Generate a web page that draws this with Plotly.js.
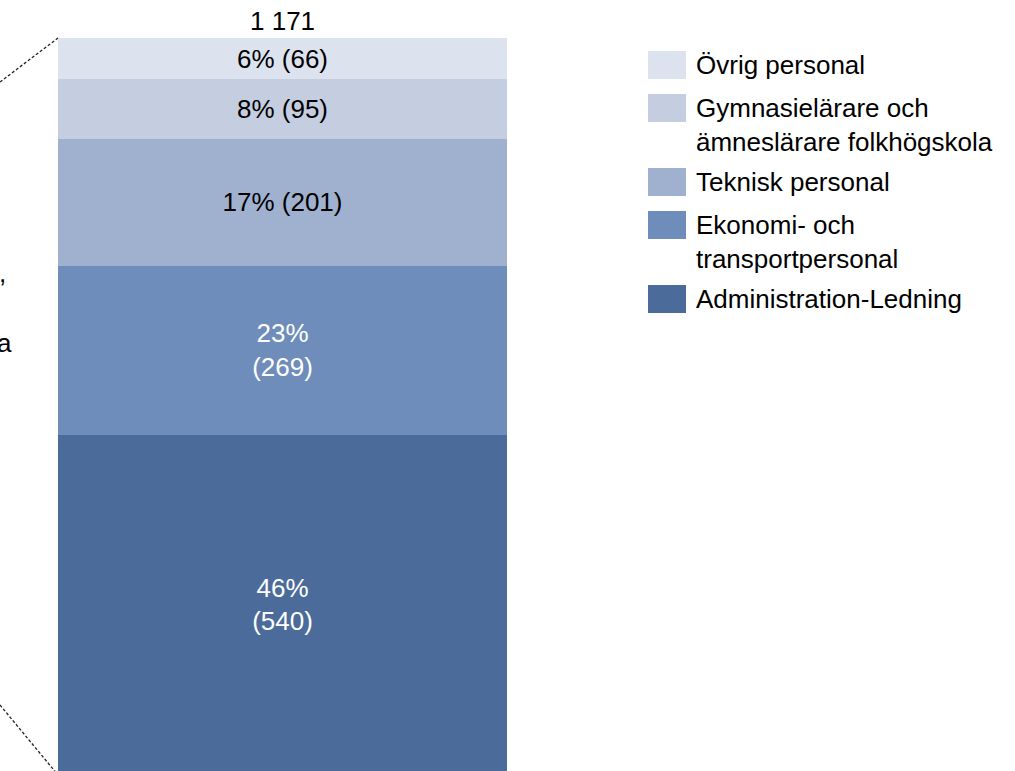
<!DOCTYPE html>
<html>
<head>
<meta charset="utf-8">
<script src="https://cdn.plot.ly/plotly-3.0.1.min.js"></script>
<style>html,body{margin:0;padding:0;background:#fff;}#chart{width:1015px;height:771px;}</style>
</head>
<body>
<div id="chart"></div>
<script>
// ---- data (bottom to top of the stack) ----
var category = ["Personal"];
var seriesNames = [
  "Administration-Ledning",
  "Ekonomi- och<br>transportpersonal",
  "Teknisk personal",
  "Gymnasielärare och<br>ämneslärare folkhögskola",
  "Övrig personal"
];
var seriesValues = [540, 269, 201, 95, 66];
var seriesColors = ["#4b6b9a", "#6e8dba", "#9fb1cf", "#c4cee0", "#dde3ee"];
var labelColors  = ["#ffffff", "#ffffff", "#000000", "#000000", "#000000"];
var labelBreak   = [true, true, false, false, false];
var leftCutText  = [",", "a"];

var FONT = "Liberation Sans, Arial, sans-serif";
var FS = 26;
var W = 1015, H = 771;
var M = {l: 58, r: 508, t: 38, b: 0};
var PW = W - M.l - M.r, PH = H - M.t - M.b;
function px2x(px){ return (px - M.l) / PW; }
function py2y(py){ return (H - M.b - py) / PH; }

var total = seriesValues.reduce(function(a,b){return a+b;}, 0);
function fmtThousands(n){ return String(n).replace(/\B(?=(\d{3})+(?!\d))/g, " "); }

var traces = seriesValues.map(function(v, i){
  var pct = Math.round(v / total * 100);
  var txt = pct + "%" + (labelBreak[i] ? "<br>" : " ") + "(" + v + ")";
  return {
    type: "bar",
    name: seriesNames[i],
    x: category,
    y: [v],
    text: [txt],
    textposition: "inside",
    insidetextanchor: "middle",
    textangle: 0,
    constraintext: "none",
    textfont: {family: FONT, size: FS, color: labelColors[i]},
    marker: {color: seriesColors[i], line: {width: 0}},
    hoverinfo: "skip",
    showlegend: false
  };
});

var shapes = [];
var annotations = [];

// total above the bar
annotations.push({
  x: category[0], y: total, xref: "x", yref: "y",
  text: fmtThousands(total), showarrow: false,
  yanchor: "bottom", xanchor: "center", yshift: 0,
  font: {family: FONT, size: FS, color: "#000"}
});

// custom legend (top item = last series)
var legTop = 51;
for (var k = seriesNames.length - 1; k >= 0; k--) {
  var lines = seriesNames[k].split("<br>").length;
  shapes.push({
    type: "rect", xref: "paper", yref: "paper",
    x0: px2x(648), x1: px2x(686), y0: py2y(legTop + 28), y1: py2y(legTop),
    fillcolor: seriesColors[k], line: {width: 0}
  });
  annotations.push({
    xref: "paper", yref: "paper",
    x: px2x(694), y: py2y(legTop + 14 + (lines - 1) * 17),
    xanchor: "left", yanchor: "middle", align: "left",
    text: seriesNames[k], showarrow: false,
    font: {family: FONT, size: FS, color: "#000"}
  });
  legTop += 43 + 31 * (lines - 1);
}

// connector lines from the (cut-off) chart on the left
shapes.push({type: "line", xref: "paper", yref: "paper",
  x0: px2x(0), y0: py2y(82), x1: px2x(58), y1: py2y(38),
  line: {color: "#222", width: 1.3, dash: "3px,2px"}});
shapes.push({type: "line", xref: "paper", yref: "paper",
  x0: px2x(0), y0: py2y(705), x1: px2x(58), y1: py2y(775),
  line: {color: "#222", width: 1.3, dash: "3px,2px"}});

// cut-off text fragments at the far left
annotations.push({xref: "paper", yref: "paper", x: px2x(8), y: py2y(273),
  xanchor: "right", yanchor: "middle", text: leftCutText[0], showarrow: false,
  font: {family: FONT, size: FS, color: "#000"}});
annotations.push({xref: "paper", yref: "paper", x: px2x(14), y: py2y(343),
  xanchor: "right", yanchor: "middle", text: leftCutText[1], showarrow: false,
  font: {family: FONT, size: FS, color: "#000"}});

var layout = {
  width: W, height: H,
  margin: M,
  paper_bgcolor: "#fff", plot_bgcolor: "#fff",
  barmode: "stack", bargap: 0,
  showlegend: false,
  font: {family: FONT, size: FS, color: "#000"},
  xaxis: {visible: false, range: [-0.5, 0.5], fixedrange: true},
  yaxis: {visible: false, range: [5, total], fixedrange: true},
  shapes: shapes,
  annotations: annotations
};

Plotly.newPlot("chart", traces, layout, {displayModeBar: false, staticPlot: true});
</script>
</body>
</html>
